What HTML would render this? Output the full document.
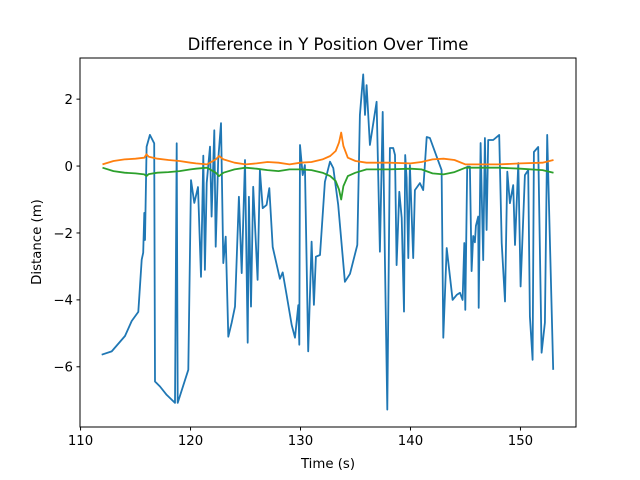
<!DOCTYPE html>
<html><head><meta charset="utf-8"><style>
html,body{margin:0;padding:0;background:#fff;}
svg{display:block;font-family:"DejaVu Sans","Liberation Sans",sans-serif;}
</style></head><body>
<svg id="chart" width="640" height="480" viewBox="0 0 640 480">
<rect width="640" height="480" fill="#fff"/>
<text x="328" y="50" text-anchor="middle" font-size="16.5" fill="#000">Difference in Y Position Over Time</text>
<g id="plot"></g>
<g id="xticks"></g>
<g id="yticks"></g>
<rect x="80" y="58" width="496" height="369" fill="none" stroke="#000" stroke-width="1"/>
<text x="328" y="468" text-anchor="middle" font-size="13.3">Time (s)</text>
<text transform="translate(41,242) rotate(-90)" text-anchor="middle" font-size="13.3">Distance (m)</text>
</svg>
<script>
const xTicks = [110,120,130,140,150];
const yTicks = [2,0,-2,-4,-6];
const blueT = [111.92,112.83,114.04,114.65,115.25,115.56,115.70,115.80,115.86,116.01,116.31,116.70,116.77,117.22,117.83,118.59,118.74,118.83,119.80,120.04,120.34,120.68,120.95,121.16,121.31,121.47,121.77,121.92,122.16,122.29,122.52,122.77,122.98,123.20,123.43,123.74,124.04,124.40,124.65,124.95,125.20,125.31,125.50,125.70,126.10,126.31,126.56,126.92,127.16,127.47,128.13,128.38,128.74,129.20,129.50,129.80,129.89,129.95,130.20,130.40,130.70,131.01,131.22,131.40,131.77,132.22,132.68,132.98,133.43,134.04,134.50,135.16,135.40,135.70,135.86,136.01,136.31,136.92,137.22,137.47,137.68,137.89,138.13,138.43,138.59,138.74,138.98,139.20,139.41,139.52,139.65,139.80,139.95,140.25,140.40,140.86,141.16,141.47,141.77,142.38,142.83,142.98,143.29,143.83,144.20,144.50,144.74,144.89,144.98,145.16,145.40,145.56,145.70,145.86,145.95,146.16,146.20,146.38,146.61,146.77,146.92,147.07,147.52,148.07,148.29,148.59,148.80,149.04,149.34,149.50,149.80,150.01,150.40,150.70,150.86,151.10,151.22,151.61,151.92,152.22,152.43,152.98];
const blueV = [-5.64,-5.54,-5.08,-4.63,-4.36,-2.80,-2.59,-1.40,-2.21,0.58,0.93,0.68,-6.44,-6.59,-6.84,-7.08,0.68,-7.08,-6.09,-0.42,-1.10,-0.63,-3.31,0.31,-3.10,-0.51,0.58,-1.51,1.07,-2.41,0.18,1.28,-2.90,-2.11,-5.10,-4.68,-4.20,-0.92,-3.20,0.18,-5.28,-0.92,-4.20,-0.62,-3.40,-0.12,-1.26,-1.16,-0.66,-2.42,-3.37,-3.18,-3.85,-4.75,-5.13,-4.16,-5.34,0.63,-0.27,0.03,-5.54,-2.26,-4.15,-2.71,-2.66,-0.47,0.13,-0.06,-1.16,-3.46,-3.22,-2.36,1.53,2.74,1.53,2.42,0.63,1.92,-2.56,1.62,-2.96,-7.28,0.54,0.54,0.33,-2.96,-0.77,-1.55,-4.35,0.33,-0.36,-2.75,0.03,-2.75,-0.72,-0.51,-0.72,0.87,0.84,0.28,-0.12,-5.13,-2.45,-4.00,-3.85,-3.79,-4.00,-2.30,-4.30,-0.02,-0.02,-3.14,-2.09,-2.28,-1.79,-1.51,-4.24,0.69,-2.81,0.84,-1.91,0.78,0.78,0.93,-2.30,-4.05,-0.17,-1.11,-0.57,-2.36,0.09,-3.60,-0.27,-0.12,-4.50,-5.79,0.42,0.57,-5.58,-4.68,0.93,-6.09];
const orangeT = [112,113,114,115,115.8,116,116.2,117,118,119,120,120.5,121.5,122.3,122.6,123,124,125,126,127,128,129,130,131,132,132.7,133.2,133.5,133.7,133.9,134.3,135,136,138,140,141,142,143,144,145,146,148,150,152,153];
const orangeV = [0.05,0.15,0.2,0.22,0.25,0.35,0.28,0.22,0.18,0.15,0.1,0.08,0.05,0.2,0.3,0.2,0.1,0.05,0.08,0.12,0.1,0.05,0.1,0.12,0.2,0.3,0.45,0.7,1.0,0.6,0.25,0.15,0.1,0.1,0.08,0.12,0.2,0.22,0.18,0.05,0.05,0.05,0.08,0.1,0.18];
const greenT = [112,113,114,115,115.8,116,116.2,117,118,119,120,120.5,121.5,122.3,122.6,123,124,125,126,127,128,129,130,131,132,132.7,133.2,133.5,133.7,133.9,134.3,135,136,138,140,141,142,143,144,145,146,148,150,152,153];
const greenV = [-0.05,-0.15,-0.2,-0.22,-0.25,-0.3,-0.24,-0.2,-0.18,-0.15,-0.1,-0.08,-0.05,-0.2,-0.3,-0.2,-0.1,-0.05,-0.08,-0.12,-0.15,-0.1,-0.1,-0.12,-0.2,-0.3,-0.45,-0.7,-1.0,-0.6,-0.3,-0.2,-0.1,-0.1,-0.08,-0.1,-0.22,-0.25,-0.18,-0.05,-0.05,-0.05,-0.08,-0.12,-0.2];

const NS='http://www.w3.org/2000/svg';
const X0=80,X1=576,Y0=58,Y1=427,XMIN=109.95,XMAX=155.05,YMIN=-7.8,YMAX=3.23;
function sx(t){return X0+(t-XMIN)/(XMAX-XMIN)*(X1-X0);}
function sy(v){return Y1-(v-YMIN)/(YMAX-YMIN)*(Y1-Y0);}
const plot=document.getElementById('plot');
function line(T,V,color,name){
  const p=document.createElementNS(NS,'path');
  p.setAttribute('d',T.map((t,i)=>(i?'L':'M')+sx(t).toFixed(1)+' '+sy(V[i]).toFixed(1)).join(''));
  p.setAttribute('fill','none');p.setAttribute('stroke',color);p.setAttribute('stroke-width','1.8');
  p.setAttribute('stroke-linejoin','round');
  
  
  plot.appendChild(p);
}
line(blueT,blueV,'#1f77b4','series-blue');
line(orangeT,orangeV,'#ff7f0e','series-orange');
line(greenT,greenV,'#2ca02c','series-green');
const xg=document.getElementById('xticks');
xTicks.forEach(t=>{
  const x=sx(t);
  const l=document.createElementNS(NS,'line');
  l.setAttribute('x1',x);l.setAttribute('x2',x);l.setAttribute('y1',427);l.setAttribute('y2',430.5);l.setAttribute('stroke','#000');
  
  
  xg.appendChild(l);
  const tx=document.createElementNS(NS,'text');
  tx.setAttribute('x',x);tx.setAttribute('y',445);tx.setAttribute('text-anchor','middle');tx.setAttribute('font-size','13.3');
  tx.textContent=t;
  
  
  xg.appendChild(tx);
});
const yg=document.getElementById('yticks');
yTicks.forEach(v=>{
  const y=sy(v);
  const l=document.createElementNS(NS,'line');
  l.setAttribute('x1',76.5);l.setAttribute('x2',80);l.setAttribute('y1',y);l.setAttribute('y2',y);l.setAttribute('stroke','#000');
  
  
  yg.appendChild(l);
  const tx=document.createElementNS(NS,'text');
  tx.setAttribute('x',73);tx.setAttribute('y',y+4.8);tx.setAttribute('text-anchor','end');tx.setAttribute('font-size','13.3');
  tx.textContent=v<0?'\u2212'+(-v):v;
  
  
  yg.appendChild(tx);
});
</script>
</body></html>
